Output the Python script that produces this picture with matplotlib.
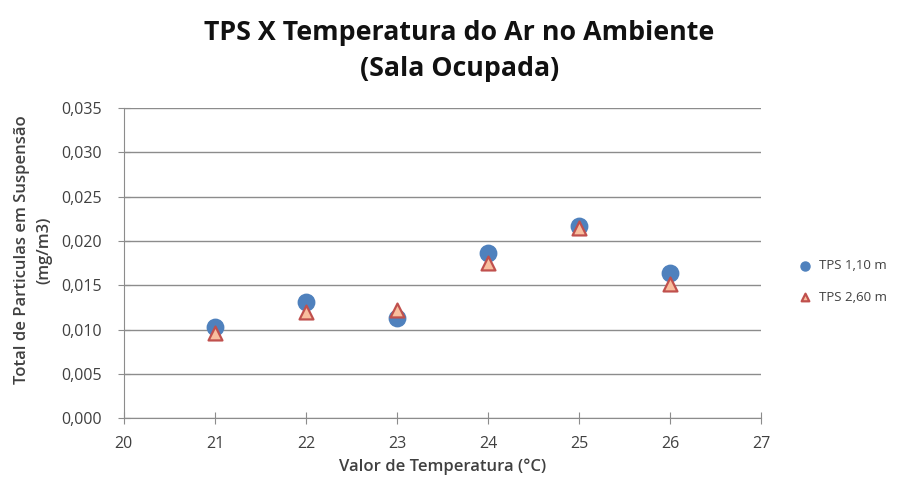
import matplotlib.pyplot as plt
from matplotlib.ticker import MultipleLocator, FuncFormatter

temperatura = [21, 22, 23, 24, 25, 26]
tps_110 = [0.0103, 0.0131, 0.0113, 0.0186, 0.0217, 0.0164]
tps_260 = [0.0096, 0.0120, 0.0122, 0.0175, 0.0215, 0.0151]

plt.rcParams['font.family'] = ['Open Sans', 'DejaVu Sans']


def main():
    fig = plt.figure(figsize=(9.04, 4.88), dpi=100)
    ax = fig.add_axes([0.137, 0.143, 0.705, 0.636])

    ax.scatter(temperatura, tps_110, s=140, marker="o", color="#4F81BD",
               edgecolor="#4F81BD", zorder=3, label="TPS 1,10 m")
    ax.scatter(temperatura, tps_260, s=100, marker="^", color="#F9BE9E",
               edgecolor="#C0504D", linewidth=1.6, zorder=4, label="TPS 2,60 m")

    ax.set_xlim(20, 27)
    ax.set_ylim(0, 0.035)
    ax.xaxis.set_major_locator(MultipleLocator(1))
    ax.yaxis.set_major_locator(MultipleLocator(0.005))
    ax.yaxis.set_major_formatter(FuncFormatter(lambda v, p: f"{v:.3f}".replace(".", ",")))
    ax.grid(axis="y", color="#8C8C8C", linewidth=1)
    ax.set_axisbelow(True)

    for s in ["top", "right"]:
        ax.spines[s].set_visible(False)
    for s in ["left", "bottom"]:
        ax.spines[s].set_color("#8C8C8C")
    ax.tick_params(axis="y", direction="inout", length=9, color="#8C8C8C",
                   labelsize=11.5, labelcolor="#404040", pad=11)
    ax.tick_params(axis="x", direction="inout", length=9, color="#8C8C8C",
                   labelsize=11.5, labelcolor="#404040", pad=8)

    # rotulos dos eixos
    fig.text(0.49, 1 - 467 / 488, "Valor de Temperatura (°C)", fontsize=12,
             fontweight="semibold", color="#404040", ha="center", va="center")
    fig.text(0.037, 1 - 250 / 488, "Total de Particulas em Suspensão\n(mg/m3)",
             fontsize=12, fontweight="semibold", color="#404040", rotation=90,
             ha="center", va="center", multialignment="center", linespacing=1.5)

    fig.text(0.508, 1 - 51 / 488, "TPS X Temperatura do Ar no Ambiente\n(Sala Ocupada)",
             fontsize=19.3, fontweight="bold", color="#111111", ha="center",
             va="center", linespacing=1.45)

    ax.legend(loc="center left", bbox_to_anchor=(1.03, 0.44), frameon=False,
              fontsize=9.5, handletextpad=0.0, markerscale=0.55, labelspacing=1.4,
              labelcolor="#404040")

    fig.savefig("out.png", dpi=100)


if __name__ == "__main__":
    main()
